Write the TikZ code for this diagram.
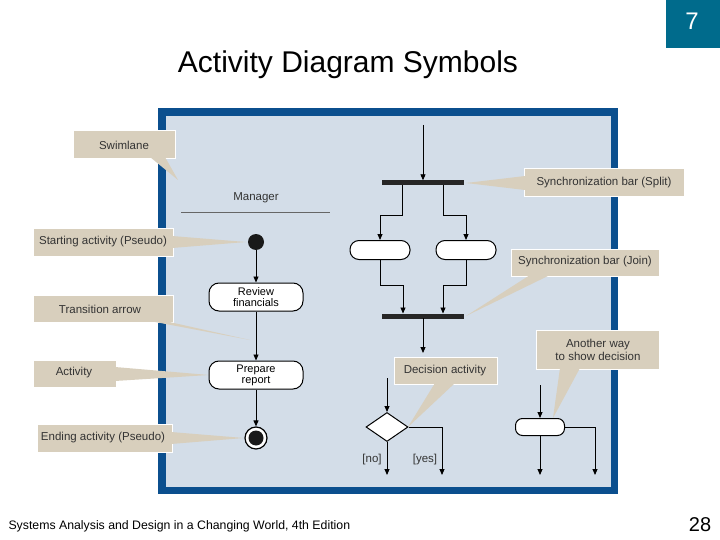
\documentclass[tikz,border=0pt]{standalone}
\usepackage{fontspec}
\setmainfont{Liberation Sans}
\usetikzlibrary{arrows.meta,shapes.geometric}
\definecolor{teal7}{HTML}{006B8C}
\definecolor{frameblue}{HTML}{0B4F8E}
\definecolor{lane}{HTML}{D3DDE8}
\definecolor{tan}{HTML}{D8CFBD}
\begin{document}
\begin{tikzpicture}[x=1pt,y=-1pt,
  lbl/.style={font=\fontsize{11.5}{12.5}\selectfont,text=black!80},
  call/.style={fill=tan,draw=white,line width=0.8pt},
  act/.style={draw=black,fill=white,rounded corners=10pt,line width=1pt,minimum width=94pt,minimum height=28pt,inner sep=0pt,align=center,font=\fontsize{11}{11}\selectfont},
  sact/.style={draw=black,fill=white,rounded corners=9pt,line width=1pt,minimum width=60pt,minimum height=19pt,inner sep=0pt},
  bar/.style={fill=black!85,minimum width=82pt,minimum height=5pt,inner sep=0pt},
  ar/.style={-{Triangle[length=6pt,width=5pt]},line width=0.9pt},
  ln/.style={line width=0.9pt}]
\useasboundingbox (0,0) rectangle (720,540);
\fill[teal7] (666,0) rectangle (720,48);
\node[text=white,font=\fontsize{24}{26}\selectfont] (seven) at (692,21) {7};
\node[font=\fontsize{30}{32}\selectfont] (title) at (348,65) {Activity Diagram Symbols};
% frame
\fill[frameblue] (158,108) rectangle (618,494);
\fill[lane] (166,116) rectangle (611,487);
% callouts
\fill[call] (73,130) rectangle (175,158);
\fill[tan] (150,157) -- (178,180) -- (165,157) -- cycle;
\node[lbl] (swl) at (124,145) {Swimlane};
\fill[call] (33,228) rectangle (173,256);
\fill[tan] (172,236) -- (246,242) -- (172,248) -- cycle;
\node[lbl] (sal) at (103,242) {Starting activity (Pseudo)};
\fill[call] (33,295) rectangle (173,322);
\fill[tan] (150,321) -- (250,340) -- (165,321) -- cycle;
\node[lbl] (tal) at (100,309) {Transition arrow};
\fill[call] (33,360) rectangle (116,387);
\fill[tan] (115,367) -- (209,375) -- (115,381) -- cycle;
\node[lbl] (acl) at (74,373) {Activity};
\fill[call] (37,424) rectangle (172,452);
\fill[tan] (171,432) -- (244,438) -- (171,444) -- cycle;
\node[lbl] (eal) at (103,438) {Ending activity (Pseudo)};
\fill[call] (524,168) rectangle (684,196);
\fill[tan] (525,176) -- (466,183) -- (525,190) -- cycle;
\node[lbl] (ssl) at (604,183) {Synchronization bar (Split)};
\fill[call] (511,249) rectangle (659,276);
\fill[tan] (530,275) -- (466,316) -- (550,275) -- cycle;
\node[lbl] (sjl) at (585,262) {Synchronization bar (Join)};
\fill[call] (394,357) rectangle (497,384);
\fill[tan] (435,383) -- (408,427) -- (455,383) -- cycle;
\node[lbl] (dal) at (445,371) {Decision activity};
\fill[call] (536,330) rectangle (659,369);
\fill[tan] (560,368) -- (553,418) -- (580,368) -- cycle;
\node[lbl,align=center] (awl) at (598,350) {Another way\\to show decision};
% manager lane
\node[lbl] (mgr) at (256,198) {Manager};
\draw[black!60,line width=1pt] (181,213) -- (330,213);
\node[circle,fill=black!90,minimum size=16pt,inner sep=0pt] (start) at (256,242) {};
\node[act] (rev) at (256,297) {Review\\financials};
\node[act] (prep) at (256,375) {Prepare\\report};
\node[circle,draw=black,line width=1.2pt,fill=white,minimum size=22pt,inner sep=0pt] (end) at (256,438) {};
\fill[black!90] (end) circle (7.5pt);
\draw[ar] (start) -- (rev);
\draw[ar] (rev) -- (prep);
\draw[ar] (prep) -- (end);
% split/join
\coordinate (top) at (423,125);
\node[bar] (split) at (423,183) {};
\node[bar] (join) at (423,316) {};
\draw[ar] (top) -- (split);
\node[sact] (a1) at (380,250) {};
\node[sact] (a2) at (466,250) {};
\draw[ar] (402,185) |- (380,215) -- (a1.north);
\draw[ar] (443,185) |- (466,215) -- (a2.north);
\draw[ar] (a1.south) |- (403,285) -- (403,313.5);
\draw[ar] (a2.south) |- (443,285) -- (443,313.5);
\coordinate (jout) at (423,353);
\draw[ar] (423,318) -- (jout);
% decision
\node[diamond,draw=black,fill=white,line width=1pt,minimum width=42pt,minimum height=29pt,inner sep=0pt,aspect=1.45] (dec) at (387,427) {};
\coordinate (din) at (387,378);
\draw[ar] (din) -- (dec.north);
\coordinate (no) at (387,475);
\coordinate (yes) at (442,475);
\draw[ar] (dec.south) -- (no);
\draw[ar] (dec.east) -| (yes);
\node[lbl] (nol) at (372,460) {[no]};
\node[lbl] (yesl) at (425,460) {[yes]};
% another way
\node[draw=black,fill=white,rounded corners=7pt,line width=1pt,minimum width=49pt,minimum height=17pt,inner sep=0pt] (alt) at (540,427) {};
\coordinate (ain) at (540,385);
\draw[ar] (ain) -- (alt.north);
\coordinate (ao1) at (540,475);
\coordinate (ao2) at (595,475);
\draw[ar] (alt.south) -- (ao1);
\draw[ar] (alt.east) -| (ao2);
% footer
\node[anchor=west,font=\fontsize{12.3}{13}\selectfont] (foot) at (5,526) {Systems Analysis and Design in a Changing World, 4th Edition};
\node[font=\fontsize{20}{22}\selectfont] (pg) at (700,525) {28};
\end{tikzpicture}
\end{document}
